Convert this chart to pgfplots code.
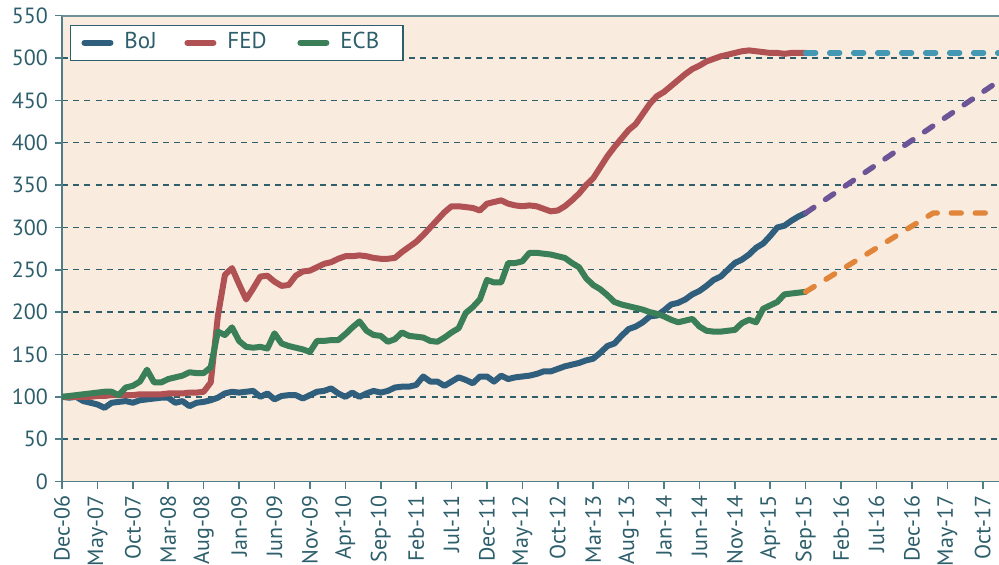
\documentclass[border=0pt]{standalone}
\usepackage{fontspec}
\setmainfont{PT Sans}
\usepackage{pgfplots}
\usepackage{pgfplotstable}
\pgfplotsset{compat=1.18}
\definecolor{bg}{HTML}{FAEBDF}
\definecolor{txt}{HTML}{2D5E6B}
\definecolor{axiscol}{HTML}{4F7E88}
\definecolor{topcol}{HTML}{6E9096}
\definecolor{gridcol}{HTML}{2E5F6A}
\definecolor{boj}{HTML}{2F5F7C}
\definecolor{fed}{HTML}{B05253}
\definecolor{ecb}{HTML}{3A7F57}
\definecolor{fedp}{HTML}{4399B3}
\definecolor{bojp}{HTML}{6B5596}
\definecolor{ecbp}{HTML}{E0853A}

\pgfplotstableread{
m fed boj ecb
0 100 100 100
1 100 99 101
2 100 100 102
3 100 95 103
4 100 93 104
5 101 91 105
6 101 87 106
7 102 93 106
8 102 94 102
9 102 95 111
10 102 93 113
11 103 96 118
12 103 97 132
13 103 98 117
14 103 99 117
15 104 99 121
16 104 93 123
17 104 95 125
18 105 89 129
19 105 93 128
20 106 94 128
21 117 96 135
22 195 99 177
23 244 104 173
24 252 106 182
25 233 105 166
26 215 106 159
27 228 107 158
28 242 100 159
29 243 104 157
30 236 97 175
31 231 101 163
32 232 102 160
33 243 102 158
34 248 98 156
35 249 102 153
36 253 106 166
37 257 107 166
38 259 110 167
39 263 104 167
40 266 100 174
41 266 105 182
42 267 100 189
43 266 104 178
44 264 107 173
45 263 105 172
46 263 107 165
47 264 111 168
48 271 112 176
49 277 112 172
50 283 114 171
51 291 124 170
52 300 118 166
53 309 118 165
54 318 113 170
55 325 118 176
56 325 123 181
57 324 120 199
58 323 116 206
59 320 124 215
60 328 124 238
61 330 118 235
62 332 125 235
63 328 121 258
64 326 123 258
65 325 124 260
66 326 125 270
67 325 127 270
68 322 130 269
69 319 130 268
70 320 133 266
71 325 136 264
72 332 138 258
73 340 140 253
74 350 143 240
75 358 145 232
76 371 152 227
77 384 160 220
78 395 163 212
79 405 172 209
80 415 180 207
81 422 183 205
82 434 188 203
83 446 195 200
84 455 196 198
85 460 202 195
86 467 209 191
87 474 211 188
88 481 215 190
89 487 221 192
90 491 225 183
91 496 231 178
92 499 238 177
93 502 242 177
94 504 250 178
95 506 258 179
96 508 262 187
97 509 268 191
98 508 276 188
99 507 281 204
100 506 290 208
101 506 300 212
102 505 302 221
103 506 308 222
104 506 313 223
105 506 317 224
}\datatable

\pgfplotstableread{
m v
105 506
132.3 506
}\fedproj
\pgfplotstableread{
m v
105 317
132.3 473
}\bojproj
\pgfplotstableread{
m v
105 224
123 317
132.3 317
}\ecbproj

\begin{document}
\begin{tikzpicture}
\begin{axis}[
  scale only axis,
  width=468.65pt, height=233pt,
  xmin=0, xmax=132.3, ymin=0, ymax=550,
  axis background/.style={fill=bg},
  axis x line*=bottom, axis y line*=left,
  axis line style={axiscol, line width=0.8pt},
  tick align=outside, tick pos=left,
  major tick length=3.5pt,
  tick style={axiscol, line width=0.8pt},
  xtick={0,5,...,130},
  xticklabels={Dec-06,May-07,Oct-07,Mar-08,Aug-08,Jan-09,Jun-09,Nov-09,Apr-10,Sep-10,Feb-11,Jul-11,Dec-11,May-12,Oct-12,Mar-13,Aug-13,Jan-14,Jun-14,Nov-14,Apr-15,Sep-15,Feb-16,Jul-16,Dec-16,May-17,Oct-17},
  xticklabel style={rotate=90, anchor=east},
  ytick={0,50,...,550},
  ymajorgrids,
  major grid style={gridcol, line width=0.7pt, dash pattern=on 3pt off 2.6pt},
  tick label style={font=\fontsize{11}{13}\selectfont, text=txt},
  /pgf/number format/assume math mode=true,
  legend columns=3,
  legend image code/.code={\draw[#1, line cap=round] (0pt,0pt) -- (13pt,0pt);},
  legend style={at={(0.0085,0.981)}, anchor=north west, draw=txt, line width=0.7pt,
    fill=white, font=\fontsize{11.5}{13}\selectfont, text=txt,
    inner xsep=5.4pt, inner ysep=3.5pt,
    nodes={inner sep=0pt, text height=8pt, text depth=2.5pt},
    /tikz/every odd column/.append style={column sep=5.5pt},
    /tikz/every even column/.append style={column sep=7pt}},
  every axis plot/.append style={line width=3pt, line join=round},
]
\addplot[boj, line cap=round] table[x=m, y=boj] {\datatable};
\addlegendentry{\makebox[23pt][l]{BoJ}}
\addplot[fed, line cap=round] table[x=m, y=fed] {\datatable};
\addlegendentry{\makebox[28pt][l]{FED}}
\addplot[ecb, line cap=round] table[x=m, y=ecb] {\datatable};
\addlegendentry{\makebox[26pt][l]{ECB}}
\addplot[fedp, line width=2.7pt, line cap=round, dash pattern=on 5pt off 7pt, forget plot] table[x=m, y=v] {\fedproj};
\addplot[bojp, line width=2.7pt, line cap=round, dash pattern=on 5pt off 7pt, forget plot] table[x=m, y=v] {\bojproj};
\addplot[ecbp, line width=2.7pt, line cap=round, dash pattern=on 5pt off 7pt, forget plot] table[x=m, y=v] {\ecbproj};
\coordinate (tl) at (rel axis cs:0,1);
\coordinate (tr) at (rel axis cs:1,1);
\coordinate (bbl) at (rel axis cs:-0.0662,-0.1788);
\coordinate (btr) at (rel axis cs:1,1.0337);
\end{axis}
\draw[topcol, line width=1pt] (tl) -- (tr);
\pgfresetboundingbox
\useasboundingbox (bbl) rectangle (btr);
\end{tikzpicture}
\end{document}
